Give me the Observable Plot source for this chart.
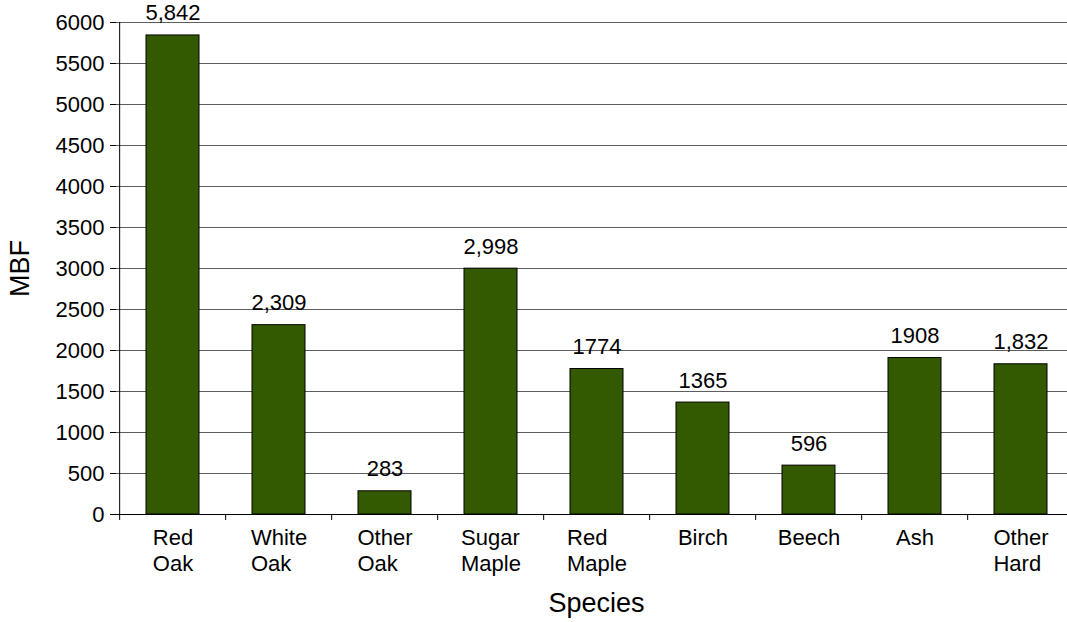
<!DOCTYPE html>
<html><head><meta charset="utf-8">
<script src="https://cdn.jsdelivr.net/npm/d3@7"></script>
<script src="https://cdn.jsdelivr.net/npm/@observablehq/plot@0.6"></script>
<style>
html,body{margin:0;padding:0;overflow:hidden;background:#fff;}
</style>
</head><body><div id="chart"></div>
<script>
const species = ["Red Oak","White Oak","Other Oak","Sugar Maple","Red Maple","Birch","Beech","Ash","Other Hard"];
const mbf = [5842,2309,283,2998,1774,1365,596,1908,1832];
const valueLabels = ["5,842","2,309","283","2,998","1774","1365","596","1908","1,832"];
const yTicks = [0,500,1000,1500,2000,2500,3000,3500,4000,4500,5000,5500,6000];
const yTitle = "MBF";
const xTitle = "Species";

const data = species.map((s, i) => ({species: s, mbf: mbf[i], label: valueLabels[i]}));

const W = 1067, ML = 116, MR = -9;
const step = (W - ML - MR) / species.length;
const font = "'Liberation Sans', Arial, sans-serif";

const chart = Plot.plot({
  width: W, height: 622,
  marginLeft: ML, marginRight: MR, marginTop: 22, marginBottom: 108,
  style: {fontFamily: font, fontSize: "22px", color: "#000", background: "#fff", overflow: "hidden"},
  x: {domain: species, paddingInner: 0.5, paddingOuter: 0.25},
  y: {domain: [0, 6000]},
  marks: [
    Plot.gridY(yTicks.filter(v => v > 0), {stroke: "#5e5e5e", strokeOpacity: 1}),
    Plot.barY(data, {x: "species", y: "mbf", fill: "#335a00", stroke: "#000", strokeWidth: 1}),
    Plot.text(data, {x: "species", y: "mbf", text: "label", lineAnchor: "bottom", dy: -15, fontSize: 22, fill: "#000"}),
    Plot.ruleY([0], {stroke: "#000"}),
    Plot.ruleX([species[0]], {x: d => d, dx: -step / 2, y1: 0, y2: 6000, stroke: "#000"}),
    Plot.axisY(yTicks, {tickSize: 6, tickPadding: 6, fontSize: 22, label: null, stroke: "#000", tickFormat: d => String(d)}),
    Plot.axisX({tickSize: 6, dx: -step / 2, tickFormat: () => "", label: null, stroke: "#000"}),
    Plot.axisX({tickSize: 0, tickPadding: 12, fontSize: 22, lineHeight: 1.18, tickFormat: d => d.replace(" ", "\n"), label: null, ariaLabel: "species-labels"}),
    Plot.text([yTitle], {frameAnchor: "left", rotate: -90, dx: -96, textAnchor: "middle", lineAnchor: "middle", fontSize: 27, fill: "#000"}),
    Plot.text([xTitle], {frameAnchor: "bottom", dy: 89, textAnchor: "middle", lineAnchor: "middle", fontSize: 27, fill: "#000"})
  ]
});
document.getElementById("chart").appendChild(chart);

// Multi-line category labels: lines left-aligned within a block centred on the band
d3.select(chart).selectAll("text").each(function() {
  const tspans = this.querySelectorAll("tspan");
  if (tspans.length < 2) return;
  let maxW = 0;
  tspans.forEach(t => { maxW = Math.max(maxW, t.getComputedTextLength()); });
  this.setAttribute("text-anchor", "start");
  tspans.forEach(t => t.setAttribute("x", -maxW / 2));
});
</script>
</body></html>
